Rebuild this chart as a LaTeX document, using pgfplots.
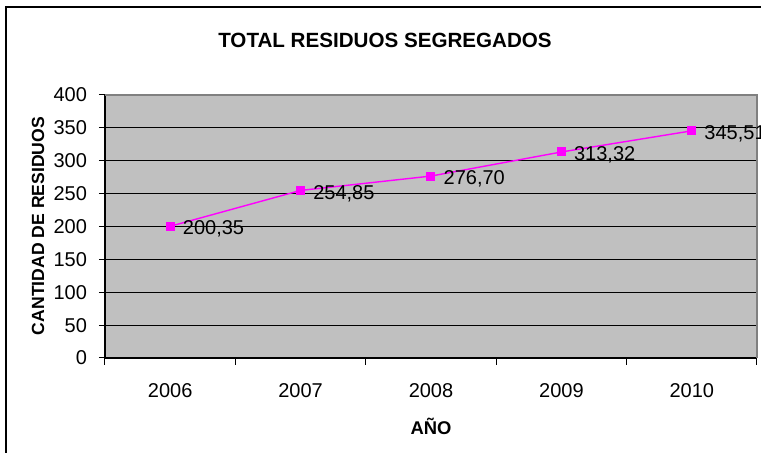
\documentclass[border=0pt]{standalone}
\usepackage{pgfplots}
\pgfplotsset{compat=1.18}
\usepackage{fontspec}
\setmainfont{Liberation Sans}
\definecolor{plotgray}{HTML}{C0C0C0}
\definecolor{bordergray}{HTML}{808080}
\definecolor{mag}{HTML}{FF00FF}
\begin{document}
\begin{tikzpicture}[x=0.5pt,y=0.5pt]
\useasboundingbox (0,0) rectangle (761,453);
\draw[line width=1.2pt] (6,0) -- (6,446) -- (761,446);
\begin{axis}[
  at={(52.5pt,47.5pt)}, anchor=south west,
  scale only axis, width=326pt, height=131.5pt,
  xmin=-0.5, xmax=4.5, ymin=0, ymax=400,
  ytick={0,50,...,400},
  xtick={0,1,2,3,4},
  xticklabels={2006,2007,2008,2009,2010},
  minor xtick={-0.5,0.5,1.5,2.5,3.5,4.5},
  major x tick style={draw=none},
  minor x tick style={black, line width=0.5pt},
  tick align=outside,
  major tick length=3pt,
  minor tick length=3.5pt,
  y tick style={black, line width=0.5pt},
  ymajorgrids,
  major grid style={black, line width=0.5pt},
  axis background/.style={fill=plotgray},
  axis line style={bordergray, line width=0.6pt},
  separate axis lines,
  axis x line*=bottom, axis y line*=left,
  x axis line style={black,-},
  y axis line style={black,-},
  tick label style={font=\fontsize{10pt}{12pt}\selectfont},
  xticklabel style={yshift=-6pt},
  yticklabel style={xshift=-2.5pt},
  /pgf/number format/assume math mode=true,
  clip=false,
]
\draw[bordergray, line width=0.6pt] (axis cs:-0.5,400) -- (axis cs:4.5,400) -- (axis cs:4.5,0);
\addplot[mag, line width=0.7pt, mark=square*, mark size=1.9pt, mark options={fill=mag, draw=mag},
  nodes near coords, point meta=explicit symbolic,
  every node near coord/.append style={anchor=west, xshift=5pt, yshift=-1.5pt, black, font=\fontsize{10pt}{12pt}\selectfont, inner sep=1pt}]
table[meta=lab] {
x y lab
0 200.35 {200,35}
1 254.85 {254,85}
2 276.70 {276,70}
3 313.32 {313,32}
4 345.51 {345,51}
};
\end{axis}
\node[font=\bfseries\fontsize{10.3pt}{12pt}\selectfont] at (385,413) {TOTAL RESIDUOS SEGREGADOS};
\node[font=\bfseries\fontsize{9.2pt}{11pt}\selectfont] at (431,27) {AÑO};
\node[font=\bfseries\fontsize{8.8pt}{10pt}\selectfont, rotate=90] at (38,227) {CANTIDAD DE RESIDUOS};
\end{tikzpicture}
\end{document}
